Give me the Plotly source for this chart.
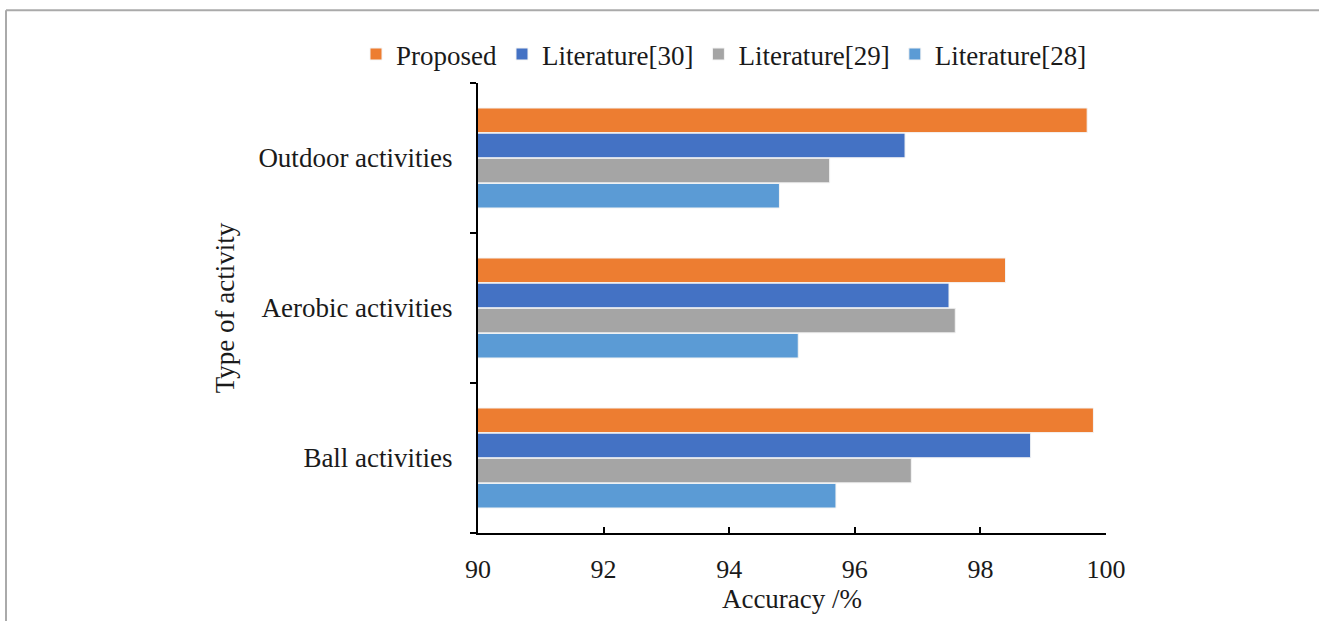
import plotly.graph_objects as go

# Activity categories, listed bottom-to-top on the y axis
activities = ["Ball activities", "Aerobic activities", "Outdoor activities"]

# Accuracy (%) of each method per activity type
proposed = [99.8, 98.4, 99.7]
literature_30 = [98.8, 97.5, 96.8]
literature_29 = [96.9, 97.6, 95.6]
literature_28 = [95.7, 95.1, 94.8]

x_ticks = [90, 92, 94, 96, 98, 100]

FONT = "Liberation Serif, Times New Roman, serif"
TEXT = "#1a1a1a"

# Traces are added bottom-to-top within each group; legend is shown reversed
series = [
    ("Literature[28]", literature_28, "#5B9BD5"),
    ("Literature[29]", literature_29, "#A5A5A5"),
    ("Literature[30]", literature_30, "#4472C4"),
    ("Proposed", proposed, "#ED7D31"),
]

fig = go.Figure()
for name, vals, color in series:
    fig.add_trace(go.Bar(
        y=activities, x=vals, name=name, orientation="h",
        marker=dict(color=color, line=dict(color="#f4f4f4", width=1)),
    ))

W, H = 1319, 621
L, R, T, B = 478, 213, 83, 81
pw, ph = W - L - R, H - T - B

def px_x(x):
    return (x - L) / pw

def px_y(y):
    return 1 - (y - T) / ph

fig.update_layout(
    width=W, height=H,
    margin=dict(l=L, r=R, t=T, b=B),
    paper_bgcolor="white", plot_bgcolor="white",
    barmode="group", bargap=0.33, bargroupgap=0.02,
    font=dict(family=FONT, size=27, color=TEXT),
    showlegend=True,
    legend=dict(
        orientation="h", traceorder="reversed",
        x=px_x(356), xanchor="left", y=px_y(54), yanchor="middle",
        font=dict(family=FONT, size=27, color=TEXT),
        itemwidth=30,
    ),
    xaxis=dict(
        range=[90, 100], tickvals=x_ticks, ticks="inside", ticklen=6,
        tickwidth=1.5, tickcolor="black", showline=True, linecolor="black",
        linewidth=2, showgrid=False, zeroline=False,
        tickfont=dict(family=FONT, size=26, color=TEXT),
        ticklabelstandoff=12,
        title=dict(text="Accuracy /%", font=dict(family=FONT, size=27, color=TEXT), standoff=6),
    ),
    yaxis=dict(
        type="category", categoryorder="array", categoryarray=activities,
        tickson="boundaries", ticks="outside", ticklen=6, tickwidth=1.5,
        tickcolor="black", showline=True, linecolor="black", linewidth=2,
        showgrid=False, zeroline=False,
        tickfont=dict(family=FONT, size=27, color=TEXT),
        ticklabelstandoff=18,
        title=dict(text="Type of activity", font=dict(family=FONT, size=27, color=TEXT), standoff=16),
    ),
    shapes=[
        dict(type="line", xref="paper", yref="paper",
             x0=px_x(6), x1=px_x(1330), y0=px_y(9), y1=px_y(9),
             line=dict(color="#aaaaaa", width=2)),
        dict(type="line", xref="paper", yref="paper",
             x0=px_x(6), x1=px_x(6), y0=px_y(9), y1=px_y(640),
             line=dict(color="#aaaaaa", width=2)),
    ],
)

fig.write_html("out.html")
